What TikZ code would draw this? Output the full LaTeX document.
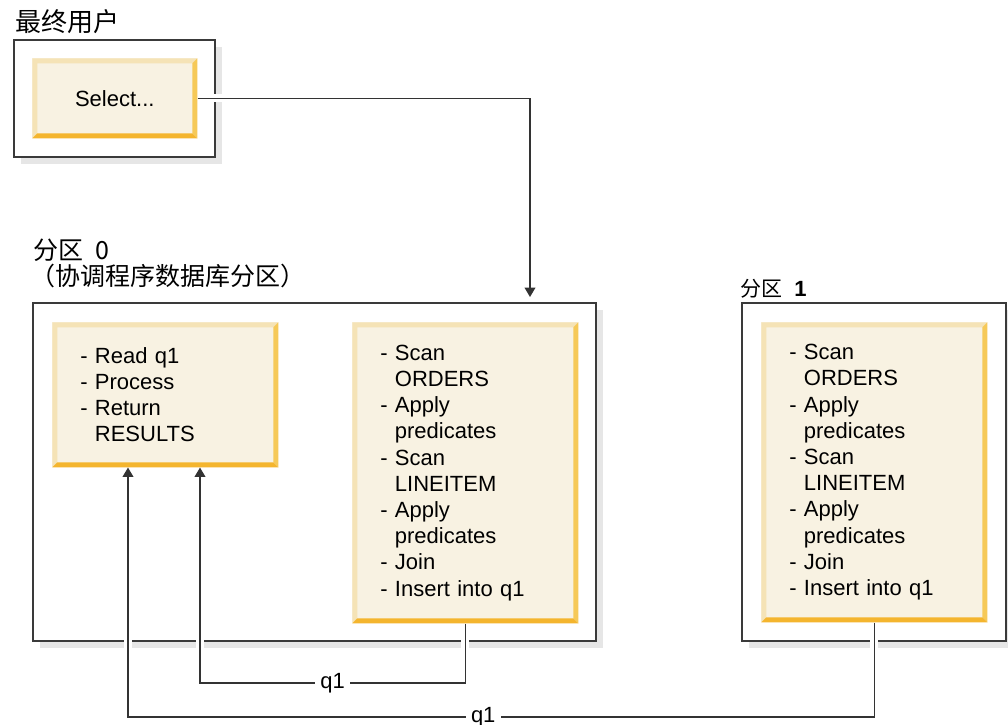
\documentclass[tikz,border=0pt]{standalone}
\usepackage{fontspec}
\setmainfont{Liberation Sans}
\newfontfamily\cjk{Noto Sans CJK SC}
\usepackage{tikz}
\usetikzlibrary{arrows.meta, calc, fit, shadows}
\definecolor{boxfill}{HTML}{F8F2E2}
\definecolor{bevlight}{HTML}{F5E3B6}
\definecolor{bevright}{HTML}{F6C958}
\definecolor{bevbottom}{HTML}{F4B52E}
\definecolor{framegray}{HTML}{3A3A3A}
\definecolor{linegray}{HTML}{333333}
\definecolor{shadowgray}{HTML}{E6E6E6}
\tikzstyle{plabel}=[anchor=base west, inner sep=0, align=left, font=\cjk\fontsize{18.75}{19.5}\selectfont]
\tikzstyle{frame}=[draw=framegray, line width=1.2pt, fill=white, inner sep=0, drop shadow={shadow xshift=5.25pt, shadow yshift=-5.25pt, fill=shadowgray, opacity=1}]
\tikzstyle{task}=[anchor=north west, fill=boxfill, inner sep=0, font=\fontsize{16.5}{19.65}\selectfont, path picture={
  \path (path picture bounding box.south west) coordinate (bsw) (path picture bounding box.north east) coordinate (bne);
  \fill[bevlight] (bsw) |- (bne) -- ([shift={(-3.75pt,-3.75pt)}]bne) -| ([shift={(3.75pt,3.75pt)}]bsw) -- cycle;
  \fill[bevright] (bne) -- (bne |- bsw) -- ([shift={(-3.75pt,3.75pt)}]bne |- bsw) -- ([shift={(-3.75pt,-3.75pt)}]bne) -- cycle;
  \fill[bevbottom] (bsw) -- (bne |- bsw) -- ([shift={(-3.75pt,3.75pt)}]bne |- bsw) -- ([shift={(3.75pt,3.75pt)}]bsw) -- cycle;}]
\tikzstyle{steps}=[text width=127.5pt, align=left, minimum width=169.5pt]
\tikzstyle{conn}=[draw=linegray, line width=1pt, preaction={draw=white, line width=6pt, -}]
\tikzstyle{qlab}=[fill=white, inner xsep=4pt, inner ysep=1pt, font=\fontsize{16.5}{19}\selectfont]
\tikzset{>={Triangle[length=7pt, width=8pt]}}
\newcommand{\contline}{\hphantom{-\ }}

\begin{document}
\begin{tikzpicture}[x=0.75pt, y=-0.75pt]
\useasboundingbox (0,0) rectangle (1008,725);
\node[plabel, font=\cjk\fontsize{19.5}{20}\selectfont] (userlbl) at (15,31) {最终用户};
\node[plabel] (p0lbl) at (33,285) {分区\hspace{9pt}0\\\hspace{-2pt}（协调程序数据库分区）};
\node[plabel, font=\cjk\fontsize{15.75}{18}\selectfont] (p1lbl) at (740,296) {分区\hspace{9pt}{\rmfamily\bfseries\fontsize{16.5}{18}\selectfont 1}};
\node[frame, fit={(14,40) (215,157)}] (userbox) {};
\node[frame, fit={(33,303) (596,641)}] (part0) {};
\node[frame, fit={(742,303) (1006,641)}] (part1) {};
\node[task, minimum width=123.75pt, minimum height=60pt] (sel) at (32,58) {Select...};
\node[task, steps, minimum height=108.75pt] (read) at (52,322) {- Read q1\\- Process\\- Return\\\contline RESULTS};
\node[task, steps, minimum height=225.75pt] (scan0) at (352,322) {- Scan\\\contline ORDERS\\- Apply\\\contline predicates\\- Scan\\\contline LINEITEM\\- Apply\\\contline predicates\\- Join\\- Insert into q1};
\node[task, steps, minimum height=225pt] (scan1) at (761,322) {- Scan\\\contline ORDERS\\- Apply\\\contline predicates\\- Scan\\\contline LINEITEM\\- Apply\\\contline predicates\\- Join\\- Insert into q1};
\coordinate (qin) at (530,303);
\coordinate (j0) at (200,683);
\coordinate (j1) at (128,717);
\draw[conn, ->, shorten >=4.5pt] (sel.east) -| (qin);
\draw[conn, ->] (scan0.south) |- node[qlab, pos=0.75]{q1} (j0) -- (j0 |- read.south);
\draw[conn, ->] (scan1.south) |- node[qlab, pos=0.762]{q1} (j1) -- (j1 |- read.south);
\end{tikzpicture}
\end{document}
